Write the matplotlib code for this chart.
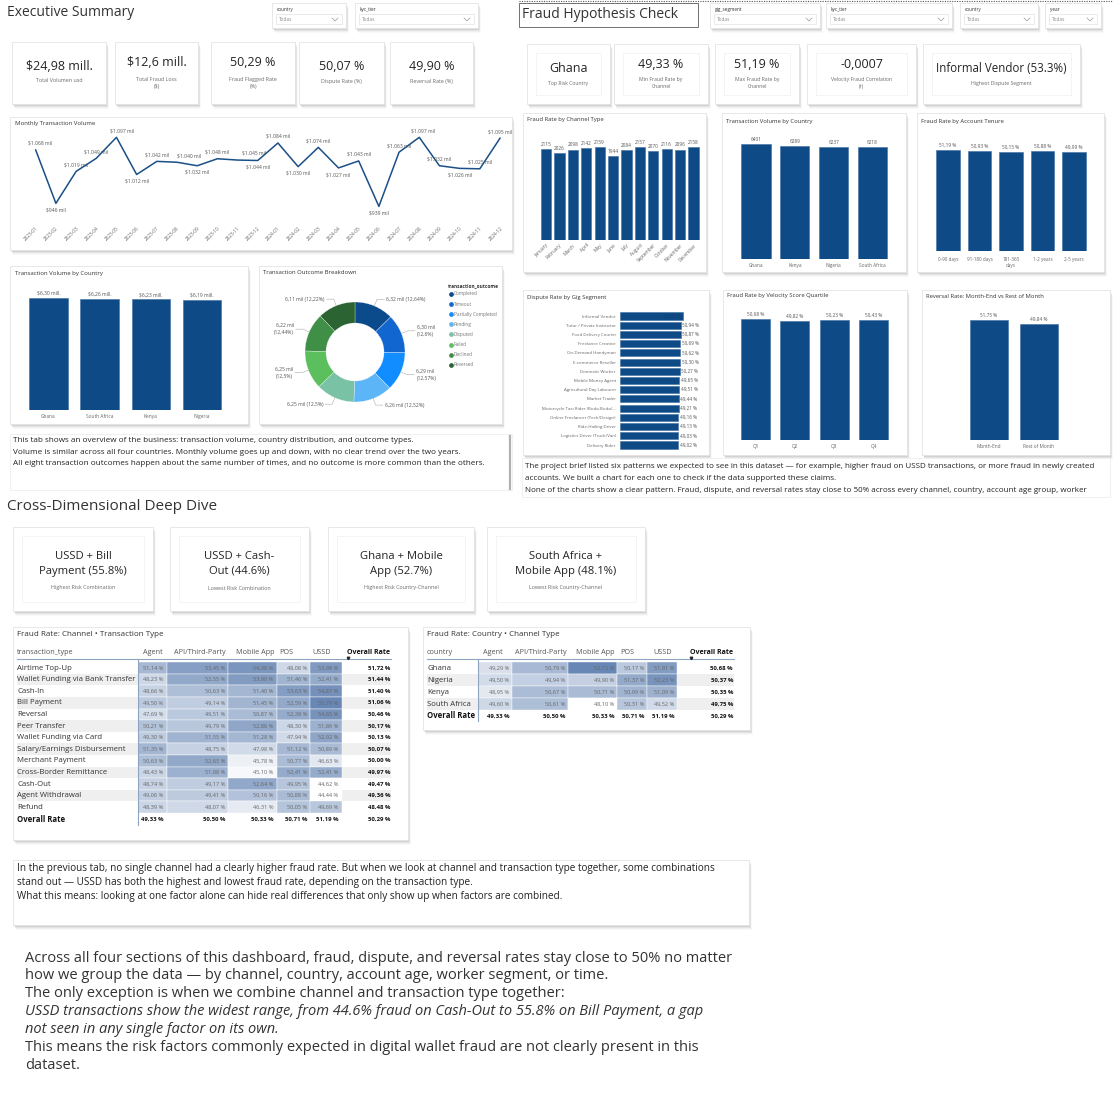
import matplotlib
matplotlib.use('Agg')
import matplotlib.pyplot as plt
from matplotlib.patches import Rectangle
from matplotlib.colors import LinearSegmentedColormap, Normalize
import numpy as np

plt.rcParams['font.family'] = ['Open Sans', 'DejaVu Sans']
W, H = 1113, 1111

# ------------------------------------------------------------------ data
exec_kpi_values = ['$24,98 mill.', '$12,6 mill.', '50,29 %', '50,07 %', '49,90 %']
exec_kpi_labels = ['Total Volumen usd', 'Total Fraud Loss\n($)', 'Fraud Flagged Rate\n(%)',
                   'Dispute Rate (%)', 'Reversal Rate (%)']

months = ['2023-01', '2023-02', '2023-03', '2023-04', '2023-05', '2023-06', '2023-07', '2023-08',
          '2023-09', '2023-10', '2023-11', '2023-12', '2024-01', '2024-02', '2024-03', '2024-04',
          '2024-05', '2024-06', '2024-07', '2024-08', '2024-09', '2024-10', '2024-11', '2024-12']
monthly_volume_k = [1068, 946, 1019, 1049, 1097, 1012, 1042, 1040, 1032, 1048, 1045, 1044,
                    1084, 1030, 1074, 1027, 1043, 939, 1063, 1097, 1032, 1026, 1025, 1095]

country_names = ['Ghana', 'South Africa', 'Kenya', 'Nigeria']
country_volume_m = [6.30, 6.26, 6.23, 6.19]

outcomes = ['Completed', 'Timeout', 'Partially Completed', 'Pending', 'Disputed', 'Failed',
            'Declined', 'Reversed']
outcome_count_k = [6.32, 6.30, 6.29, 6.26, 6.25, 6.25, 6.22, 6.11]
outcome_pct = [12.64, 12.60, 12.57, 12.52, 12.50, 12.50, 12.44, 12.22]

fh_kpi_values = ['Ghana', '49,33 %', '51,19 %', '-0,0007', 'Informal Vendor (53.3%)']
fh_kpi_labels = ['Top Risk Country', 'Min Fraud Rate by\nChannel', 'Max Fraud Rate by\nChannel',
                 'Velocity Fraud Correlation\n(r)', 'Highest Dispute Segment']

month_names = ['January', 'February', 'March', 'April', 'May', 'June', 'July', 'August',
               'September', 'October', 'November', 'December']
month_counts = [2115, 2026, 2098, 2142, 2159, 1944, 2084, 2157, 2070, 2116, 2096, 2158]

country_tx_names = ['Ghana', 'Kenya', 'Nigeria', 'South Africa']
country_tx_counts = [6401, 6289, 6237, 6218]

tenure_names = ['0-90 days', '91-180 days', '181-365\ndays', '1-2 years', '2-5 years']
tenure_fraud = [51.19, 50.93, 50.15, 50.88, 49.99]

gig_names = ['Informal Vendor', 'Tutor / Private Instructor', 'Food Delivery Courier',
             'Freelance Creative', 'On-Demand Handyman', 'E-commerce Reseller', 'Domestic Worker',
             'Mobile Money Agent', 'Agricultural Day Labourer', 'Market Trader',
             'Motorcycle Taxi Rider (Boda-Boda/...', 'Online Freelancer (Tech/Design)',
             'Ride-Hailing Driver', 'Logistics Driver (Truck/Van)', 'Delivery Rider']
gig_dispute = [53.33, 50.94, 50.87, 50.69, 50.62, 50.30, 50.27, 49.65, 49.51, 49.44, 49.21,
               49.16, 49.13, 49.03, 49.02]

velocity_q = ['Q1', 'Q2', 'Q3', 'Q4']
velocity_fraud = [50.68, 49.82, 50.23, 50.43]

reversal_period = ['Month-End', 'Rest of Month']
reversal_rate = [51.75, 49.84]

deep_kpi_values = ['USSD + Bill\nPayment (55.8%)', 'USSD + Cash-\nOut (44.6%)',
                   'Ghana + Mobile\nApp (52.7%)', 'South Africa +\nMobile App (48.1%)']
deep_kpi_labels = ['Highest Risk Combination', 'Lowest Risk Combination',
                   'Highest Risk Country-Channel', 'Lowest Risk Country-Channel']

channels = ['Agent', 'API/Third-Party', 'Mobile App', 'POS', 'USSD']
tx_types = ['Airtime Top-Up', 'Wallet Funding via Bank Transfer', 'Cash-In', 'Bill Payment',
            'Reversal', 'Peer Transfer', 'Wallet Funding via Card', 'Salary/Earnings Disbursement',
            'Merchant Payment', 'Cross-Border Remittance', 'Cash-Out', 'Agent Withdrawal', 'Refund']
tx_rates = [
    [51.14, 53.45, 54.38, 48.08, 53.98],
    [48.23, 52.55, 53.90, 51.46, 52.41],
    [48.66, 50.63, 51.40, 53.63, 54.87],
    [49.50, 49.14, 51.45, 52.59, 55.79],
    [47.69, 49.51, 50.87, 52.38, 54.65],
    [50.21, 49.79, 52.86, 48.30, 51.86],
    [49.30, 51.55, 51.28, 47.94, 52.92],
    [51.35, 48.75, 47.98, 51.12, 50.89],
    [50.63, 52.65, 45.78, 50.77, 46.63],
    [48.43, 51.88, 45.10, 52.41, 52.41],
    [48.74, 49.17, 52.64, 49.95, 44.62],
    [49.06, 49.41, 50.16, 50.88, 44.44],
    [48.39, 48.07, 46.31, 50.05, 49.69],
]
tx_overall = [51.72, 51.44, 51.40, 51.06, 50.46, 50.17, 50.13, 50.07, 50.00, 49.97, 49.47, 49.36, 48.48]
channel_overall = [49.33, 50.50, 50.33, 50.71, 51.19]
grand_overall = 50.29

table_countries = ['Ghana', 'Nigeria', 'Kenya', 'South Africa']
country_rates = [
    [49.29, 50.79, 52.72, 50.17, 51.91],
    [49.50, 49.94, 49.90, 51.37, 52.23],
    [48.95, 50.67, 50.71, 50.99, 51.09],
    [49.60, 50.61, 48.10, 50.31, 49.52],
]
country_overall = [50.68, 50.37, 50.35, 49.75]

exec_text = ["This tab shows an overview of the business: transaction volume, country distribution, and outcome types.",
             "Volume is similar across all four countries. Monthly volume goes up and down, with no clear trend over the two years.",
             "All eight transaction outcomes happen about the same number of times, and no outcome is more common than the others."]
fh_text = ["The project brief listed six patterns we expected to see in this dataset \u2014 for example, higher fraud on USSD transactions, or more fraud in newly created",
           "accounts. We built a chart for each one to check if the data supported these claims.",
           "None of the charts show a clear pattern. Fraud, dispute, and reversal rates stay close to 50% across every channel, country, account age group, worker"]
deep_text = ["In the previous tab, no single channel had a clearly higher fraud rate. But when we look at channel and transaction type together, some combinations",
             "stand out \u2014 USSD has both the highest and lowest fraud rate, depending on the transaction type.",
             "What this means: looking at one factor alone can hide real differences that only show up when factors are combined."]
final_text = ["Across all four sections of this dashboard, fraud, dispute, and reversal rates stay close to 50% no matter",
              "how we group the data \u2014 by channel, country, account age, worker segment, or time.",
              "The only exception is when we combine channel and transaction type together:",
              "USSD transactions show the widest range, from 44.6% fraud on Cash-Out to 55.8% on Bill Payment, a gap",
              "not seen in any single factor on its own.",
              "This means the risk factors commonly expected in digital wallet fraud are not clearly present in this",
              "dataset."]
final_italic = [False, False, False, True, True, False, False]

# ------------------------------------------------------------------ style
BAR = '#0D4A86'
LINE = '#1A4F87'
TXT = '#252423'
SUB = '#6a6a6a'
donut_colors = ['#0B4A8B', '#1167CF', '#118DFF', '#5CB5F7', '#79C2A5', '#5BBF5D', '#3F8F46', '#2B6332']


def pct(v):
    return f"{v:.2f}".replace('.', ',') + ' %'


fig = plt.figure(figsize=(W / 100, H / 100), dpi=100)
fig.patch.set_facecolor('white')
bg = fig.add_axes([0, 0, 1, 1], zorder=0)
bg.set_xlim(0, W)
bg.set_ylim(H, 0)
bg.axis('off')


def px_axes(x0, y0, x1, y1, z=3):
    ax = fig.add_axes([x0 / W, 1 - y1 / H, (x1 - x0) / W, (y1 - y0) / H], zorder=z)
    ax.patch.set_alpha(0)
    for s in ax.spines.values():
        s.set_visible(False)
    return ax


def card(x0, y0, x1, y1, shadow=True, edge='#e4e4e4', inner=False):
    if shadow:
        for d, a in [(5, 0.025), (4, 0.035), (3, 0.05), (2, 0.07), (1, 0.09)]:
            bg.add_patch(Rectangle((x0 + d * 0.6, y0 + d * 0.9), x1 - x0, y1 - y0,
                                   facecolor='black', alpha=a, edgecolor='none', zorder=1))
    bg.add_patch(Rectangle((x0, y0), x1 - x0, y1 - y0, facecolor='white', edgecolor=edge,
                           lw=0.6, zorder=1.5))
    if inner:
        bg.add_patch(Rectangle((x0 + 9, y0 + 9), x1 - x0 - 18, y1 - y0 - 18, facecolor='none',
                               edgecolor='#f3f3f3', lw=0.6, zorder=1.6))


def t(x, y, s, size=5, color=TXT, ha='left', va='center', **kw):
    bg.text(x, y, s, fontsize=size, color=color, ha=ha, va=va, zorder=5, **kw)


def slicer(x0, x1, label):
    card(x0, 3, x1, 28)
    t(x0 + 5, 9, label, 3.4, '#333')
    bg.add_patch(Rectangle((x0 + 4, 14), x1 - x0 - 8, 10, facecolor='white', edgecolor='#e2e2e2',
                           lw=0.5, zorder=2))
    t(x0 + 7, 19.5, 'Todas', 3.4, '#8a8a8a')
    cx = x1 - 11
    bg.plot([cx - 3, cx, cx + 3], [18, 21, 18], color='#9a9a9a', lw=0.5, zorder=5)


def vbars(cx_first, cx_last, n, base_y, ref_val, ref_top, top_y, vals, cats, labels,
          width=0.75, lab_size=3.5, tick_size=3.5, tick_pad=3, rot=0):
    step = (cx_last - cx_first) / (n - 1) if n > 1 else 50
    ax = px_axes(cx_first - step / 2, top_y, cx_last + step / 2, base_y)
    ax.set_xlim(-0.5, n - 0.5)
    vpp = ref_val / (base_y - ref_top)
    ax.set_ylim(0, (base_y - top_y) * vpp)
    ax.bar(range(n), vals, width=width, color=BAR, edgecolor='#3d6fa3', lw=0.4)
    for i, (v, l) in enumerate(zip(vals, labels)):
        ax.annotate(l, (i, v), xytext=(0, 1.6), textcoords='offset points', ha='center',
                    va='bottom', fontsize=lab_size, color='#555')
    ax.set_yticks([])
    ax.set_xticks(range(n))
    if rot:
        ax.set_xticklabels(cats, fontsize=tick_size, color='#666', rotation=rot, ha='right',
                           rotation_mode='anchor')
    else:
        ax.set_xticklabels(cats, fontsize=tick_size, color='#666', linespacing=1.3)
    ax.tick_params(length=0, pad=tick_pad)
    return ax


# ================================================================== Executive Summary
t(7, 12, 'Executive Summary', 10, '#333')
slicer(272, 346, 'country')
slicer(355, 478, 'kyc_tier')

exec_cards = [(12, 106), (115, 198), (211, 295), (299, 384), (390, 473)]
for (x0, x1), v, l in zip(exec_cards, exec_kpi_values, exec_kpi_labels):
    card(x0, 42, x1, 104)
    two = '\n' in l
    t((x0 + x1) / 2, 63 if two else 67, v, 9, TXT, ha='center', va='center')
    t((x0 + x1) / 2, 77 if two else 81, l, 3.9, SUB, ha='center', va='top' if two else 'center',
      linespacing=1.5)

# Monthly line
card(10, 117, 512, 250)
t(15, 123, 'Monthly Transaction Volume', 4.3, '#333')
ax = px_axes(20, 125, 510, 220)
ax.set_xlim(-0.778, 23.495)
ax.set_ylim(907.9, 1125.2)
xs = np.arange(len(months))
ax.plot(xs, monthly_volume_k, color=LINE, lw=1.1)
label_side = ['a', 'b', 'a', 'a', 'a', 'b', 'a', 'a', 'b', 'a', 'a', 'b',
              'a', 'b', 'a', 'b', 'a', 'b', 'a', 'a', 'a', 'b', 'a', 'a']
label_dx = [3, 0, 0, 0, 4, 0, 0, 9, 0, 0, 12, 0,
            0, 0, 0, 0, 0, 0, 0, 3, 0, 0, 0, 0]
for x, v, s, dx in zip(xs, monthly_volume_k, label_side, label_dx):
    lab = '$' + f"{v:,}".replace(',', '.') + ' mil'
    ax.annotate(lab, (x, v), xytext=(dx, 3 if s == 'a' else -3), textcoords='offset points',
                ha='center', va='bottom' if s == 'a' else 'top', fontsize=3.6, color='#555')
ax.set_yticks([])
ax.set_xticks(xs)
ax.set_xticklabels(months, fontsize=3.4, color='#666', rotation=45, ha='right',
                   rotation_mode='anchor')
ax.tick_params(length=0, pad=4)

# Country volume (left)
card(10, 266, 248, 424)
t(15, 273, 'Transaction Volume by Country', 4.3, '#333')
vbars(48.5, 202, 4, 409.7, country_volume_m[0], 298, 280, country_volume_m, country_names,
      ['$' + f"{v:.2f}".replace('.', ',') + ' mill.' for v in country_volume_m],
      width=0.75, lab_size=3.6, tick_size=3.5, tick_pad=3)

# Donut
card(259, 266, 502, 424)
t(263, 273, 'Transaction Outcome Breakdown', 4.3, '#333')
ax = px_axes(280, 277, 430, 427)
wedges, _ = ax.pie(outcome_count_k, colors=donut_colors, startangle=90, counterclock=False,
                   radius=1.0, wedgeprops=dict(width=0.42, edgecolor='white', lw=0.2))
ax.set_xlim(-1.5, 1.5)
ax.set_ylim(-1.5, 1.5)
ax.set_aspect('equal')
for w, c, p in zip(wedges, outcome_count_k, outcome_pct):
    th = np.deg2rad((w.theta1 + w.theta2) / 2)
    cx, cy = np.cos(th), np.sin(th)
    sgn = 1 if cx >= 0 else -1
    pstr = f"{p:.2f}".rstrip('0').rstrip('.').replace('.', ',') + '%'
    cstr = f"{c:.2f}".replace('.', ',') + ' mil'
    if abs(cy) > 0.8:
        lab = f"{cstr} ({pstr})"
    else:
        lab = f"{cstr}\n({pstr})"
    p1 = (cx * 1.14, cy * 1.14)
    p2 = (p1[0] + sgn * 0.14, p1[1])
    ax.plot([cx * 1.0, p1[0], p2[0]], [cy * 1.0, p1[1], p2[1]], color='#aaa', lw=0.4,
            clip_on=False)
    ax.text(p2[0] + sgn * 0.04, p2[1], lab, ha='left' if sgn > 0 else 'right', va='center',
            fontsize=3.6, color='#555', linespacing=1.5, clip_on=False)
t(448, 286, 'transaction_outcome', 3.4, '#333', weight='bold')
for i, (o, c) in enumerate(zip(outcomes, donut_colors)):
    yy = 294 + 10.1 * i
    bg.plot(450.5, yy, 'o', ms=2.4, color=c, zorder=5)
    t(454, yy, o, 3.4, '#777')

# Text box left
card(10, 434, 512, 490, shadow=False, edge='#eeeeee')
bg.plot([510, 510], [436, 489], color='#b0b0b0', lw=1.6, zorder=3)
for i, line in enumerate(exec_text):
    t(13, 441 + 11.3 * i, line, 5.9, '#222')

# ================================================================== Fraud Hypothesis Check
bg.plot([519, 1113], [1, 1], color='#555', lw=0.8, ls=(0, (1, 1.2)), zorder=5)
bg.add_patch(Rectangle((519, 3), 179, 24, facecolor='white', edgecolor='#707070', lw=0.7, zorder=2))
t(522, 14, 'Fraud Hypothesis Check', 10, '#333')
slicer(710, 820, 'gig_segment')
slicer(826, 952, 'kyc_tier')
slicer(960, 1038, 'country')
slicer(1045, 1101, 'year')

fh_cards = [(527, 610), (614, 708), (715, 799), (807, 916), (923, 1080)]
fh_sizes = [9, 9, 9, 9, 8.3]
for (x0, x1), v, l, fs in zip(fh_cards, fh_kpi_values, fh_kpi_labels, fh_sizes):
    card(x0, 44, x1, 104, inner=True)
    two = '\n' in l
    t((x0 + x1) / 2, 65 if two else 69, v, fs, TXT, ha='center')
    t((x0 + x1) / 2, 77 if two else 83, l, 3.7, SUB, ha='center', va='top' if two else 'center',
      linespacing=1.5)

# Fraud rate by channel type (months)
card(523, 113, 706, 272)
t(527, 120, 'Fraud Rate by Channel Type', 4.2, '#333')
vbars(546, 693.5, 12, 240, month_counts[4], 147, 125, month_counts, month_names,
      [str(v) for v in month_counts], width=0.76, lab_size=3.4, tick_size=3.4, tick_pad=2,
      rot=45)

# Transaction volume by country (right)
card(722, 113, 906, 272)
t(726, 121, 'Transaction Volume by Country', 4.2, '#333')
vbars(756, 872.5, 4, 258.5, country_tx_counts[0], 144, 125, country_tx_counts, country_tx_names,
      [str(v) for v in country_tx_counts], width=0.75, lab_size=3.4, tick_size=3.4, tick_pad=3)

# Fraud rate by tenure
card(917, 113, 1104, 272)
t(921, 121, 'Fraud Rate by Account Tenure', 4.2, '#333')
vbars(948, 1074, 5, 251, tenure_fraud[0], 150, 130, tenure_fraud, tenure_names,
      [pct(v) for v in tenure_fraud], width=0.76, lab_size=3.4, tick_size=3.3, tick_pad=4)

# Dispute rate by gig segment
card(523, 290, 709, 455)
t(527, 297, 'Dispute Rate by Gig Segment', 4.2, '#333')
n = len(gig_names)
step = (445 - 316) / (n - 1)
ax = px_axes(620, 316 - step / 2, 705, 445 + step / 2)
ax.set_ylim(n - 0.5, -0.5)
vpp = gig_dispute[1] / 60.6
ax.set_xlim(0, 85 * vpp)
ax.barh(range(n), gig_dispute, height=0.76, color=BAR, edgecolor='#3d6fa3', lw=0.4)
for i, v in enumerate(gig_dispute):
    if i == 0:
        ax.annotate(pct(v), (v, i), xytext=(-1.5, 0), textcoords='offset points', ha='right',
                    va='center', fontsize=3.3, color='#123f6e')
    else:
        ax.annotate(pct(v), (v, i), xytext=(1.2, 0), textcoords='offset points', ha='left',
                    va='center', fontsize=3.3, color='#555')
ax.set_xticks([])
ax.set_yticks(range(n))
ax.set_yticklabels(gig_names, fontsize=3.2, color='#666')
ax.tick_params(length=0, pad=3)

# Velocity quartile
card(723, 290, 907, 455)
t(727, 296, 'Fraud Rate by Velocity Score Quartile', 4.2, '#333')
vbars(755.5, 873.5, 4, 440, velocity_fraud[0], 319, 300, velocity_fraud, velocity_q,
      [pct(v) for v in velocity_fraud], width=0.74, lab_size=3.4, tick_size=3.4, tick_pad=3)

# Reversal month-end
card(922, 290, 1110, 455)
t(926, 297, 'Reversal Rate: Month-End vs Rest of Month', 4.2, '#333')
vbars(989, 1039, 2, 440, reversal_rate[0], 320, 300, reversal_rate, reversal_period,
      [pct(v) for v in reversal_rate], width=0.76, lab_size=3.4, tick_size=3.4, tick_pad=3)

# Text box right (clipped)
card(522, 458, 1110, 497, shadow=False, edge='#eeeeee')
axt = px_axes(522, 458, 1110, 496, z=4)
axt.set_xlim(522, 1110)
axt.set_ylim(496, 458)
axt.set_xticks([])
axt.set_yticks([])
for i, line in enumerate(fh_text):
    axt.text(525, 466.5 + 12 * i, line, fontsize=5.8, color='#222', ha='left', va='center',
             clip_on=True)

# ================================================================== Cross-Dimensional Deep Dive
t(7, 507, 'Cross-Dimensional Deep Dive', 11, '#333')
deep_cards = [(13, 153), (170, 309), (328, 474), (487, 645)]
for (x0, x1), v, l in zip(deep_cards, deep_kpi_values, deep_kpi_labels):
    card(x0, 527, x1, 611, inner=True)
    t((x0 + x1) / 2, 564, v, 8.1, TXT, ha='center', linespacing=1.4)
    t((x0 + x1) / 2, 588, l, 3.9, SUB, ha='center')

cmap = LinearSegmentedColormap.from_list('pbi', ['#FFFFFF', '#6887B5'])
SEP = '#8EA4C2'


def draw_table(box, title, first_col, rows, data, row_overall, col_overall, total,
               bounds, num_right, head_pos, y_first, y_step, y_total, right_total):
    x0, y0, x1, y1 = box
    card(x0, y0, x1, y1)
    t(x0 + 4, 635, title, 5.8, '#333')
    left = x0 + 4
    norm = Normalize(min(min(r) for r in data), max(max(r) for r in data))
    # header
    t(left, 652, first_col, 5.2, '#555')
    for (hx, ha), name in zip(head_pos, channels):
        t(hx, 652, name, 5.2, '#555', ha=ha)
    t(right_total, 652, 'Overall Rate', 5.0, '#111', ha='right', weight='bold')
    bg.plot(right_total - 42, 658.3, marker='v', ms=1.8, color='#222', zorder=6)
    bg.plot([left, right_total + 1], [658.5, 658.5], color=SEP, lw=0.8, zorder=4)
    hh = y_step / 2
    for i, (name, vals, ov) in enumerate(zip(rows, data, row_overall)):
        yc = y_first + y_step * i
        if i % 2 == 1:
            bg.add_patch(Rectangle((left, yc - hh), right_total + 1 - left, 2 * hh,
                                   facecolor='#efefef', edgecolor='none', zorder=2))
        for j, v in enumerate(vals):
            bg.add_patch(Rectangle((bounds[j], yc - hh), bounds[j + 1] - bounds[j], 2 * hh,
                                   facecolor=cmap(norm(v)), edgecolor='white', lw=0.3, zorder=3))
            t(num_right[j], yc, pct(v), 4.1, '#666', ha='right')
        t(left, yc, name, 5.6, '#333')
        t(right_total, yc, pct(ov), 4.3, '#111', ha='right', weight='bold')
    t(left, y_total, 'Overall Rate', 5.6, '#111', weight='bold')
    for j, v in enumerate(col_overall):
        t(num_right[j], y_total, pct(v), 4.3, '#111', ha='right', weight='bold')
    t(right_total, y_total, pct(total), 4.3, '#111', ha='right', weight='bold')
    bg.plot([bounds[0], bounds[0]], [660, y_total + 5], color=SEP, lw=0.8, zorder=4)


draw_table((13, 627, 408, 840), 'Fraud Rate: Channel \u2022 Transaction Type', 'transaction_type',
           tx_types, tx_rates, tx_overall, channel_overall, grand_overall,
           [138.3, 166.7, 228.3, 276.7, 310, 341.7], [163.5, 225.5, 273.5, 307.5, 338.5],
           [(163, 'right'), (226, 'right'), (275, 'right'), (279, 'left'), (312, 'left')],
           668, 11.6, 819.5, 390)

draw_table((423, 627, 750, 730), 'Fraud Rate: Country \u2022 Channel Type', 'country',
           table_countries, country_rates, country_overall, channel_overall, grand_overall,
           [478, 512, 568, 617, 647, 677], [509.5, 565.5, 614.5, 644.5, 674.5],
           [(503, 'right'), (567, 'right'), (615, 'right'), (620, 'left'), (653, 'left')],
           668, 12, 716, 733)

# Deep dive text box
card(13, 860, 749, 925)
for i, line in enumerate(deep_text):
    t(17, 869 + 14 * i, line, 7.2, '#222')

# Final summary text
for i, (line, it) in enumerate(zip(final_text, final_italic)):
    t(25, 958 + 17.9 * i, line, 10.55, '#333', style='italic' if it else 'normal')

fig.savefig('out.png', dpi=100, facecolor='white')
